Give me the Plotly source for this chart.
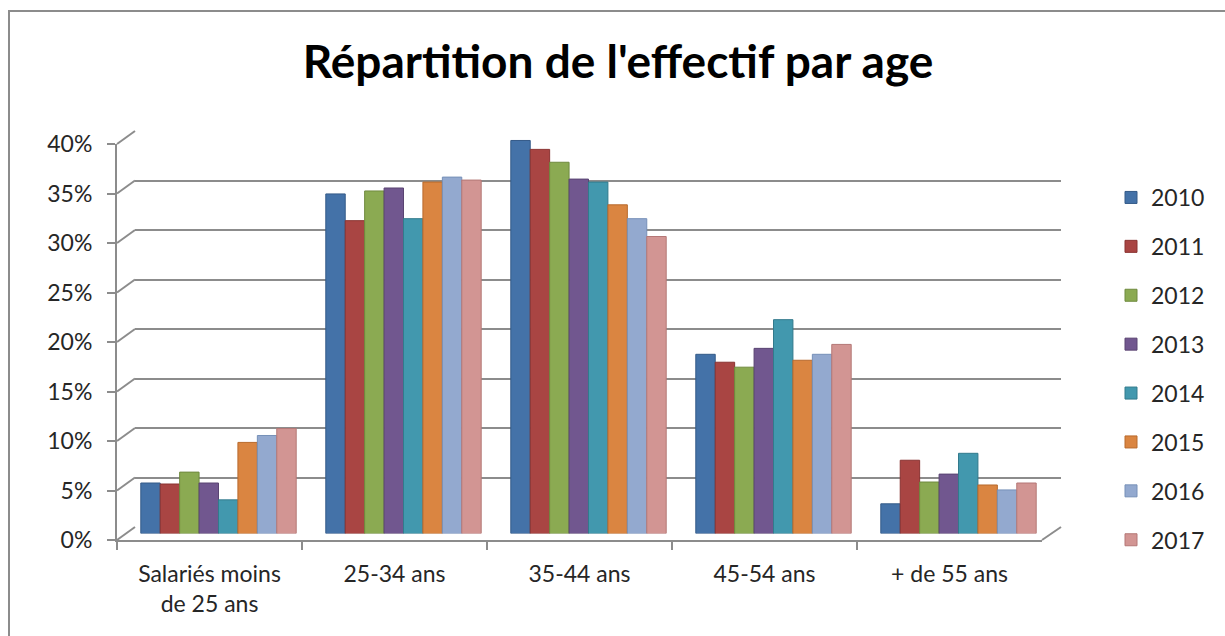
import plotly.graph_objects as go

# ---- data ----
categories = ["Salariés moins<br>de 25 ans", "25-34 ans", "35-44 ans", "45-54 ans", "+ de 55 ans"]
years = ["2010", "2011", "2012", "2013", "2014", "2015", "2016", "2017"]
v2010 = [0.051, 0.343, 0.397, 0.181, 0.030]
v2011 = [0.050, 0.316, 0.388, 0.173, 0.074]
v2012 = [0.062, 0.346, 0.375, 0.168, 0.052]
v2013 = [0.051, 0.349, 0.358, 0.187, 0.060]
v2014 = [0.034, 0.318, 0.355, 0.216, 0.081]
v2015 = [0.092, 0.355, 0.332, 0.175, 0.049]
v2016 = [0.099, 0.360, 0.318, 0.181, 0.044]
v2017 = [0.106, 0.357, 0.300, 0.191, 0.051]
series = [v2010, v2011, v2012, v2013, v2014, v2015, v2016, v2017]
colors = ["#4472A8", "#A94543", "#8BAA52", "#71578F", "#4298AE", "#DA8541", "#93A9CF", "#D29593"]
edge = ["#345A88", "#8A3331", "#6F8A3E", "#5A4472", "#327A8C", "#B86A2C", "#7690B8", "#B47776"]
ytick_vals = [0, 0.05, 0.10, 0.15, 0.20, 0.25, 0.30, 0.35, 0.40]

W, H = 1225, 636
FONT = "Lato"

def fx(px):
    return px / W

def fy(py):
    return 1 - py / H

# pixel geometry of the pseudo-3D box
front = dict(x0=117, x1=1042, y0=540, y40=144)
back = dict(x0=135, x1=1061, y0=527, y40=131)
mid = dict(x0=126, x1=1051, y0=533.5, y40=137.5)

fig = go.Figure()

# invisible trace so the back-wall subplot (gridlines) is drawn
fig.add_trace(go.Scatter(x=categories, y=v2010, mode="markers", marker=dict(opacity=0),
                         showlegend=False, hoverinfo="skip", xaxis="x", yaxis="y"))

for name, vals, c, e in zip(years, series, colors, edge):
    fig.add_trace(go.Bar(
        x=categories, y=vals, name=name, legendgroup=name,
        marker=dict(color=c, line=dict(color=e, width=1)),
        xaxis="x2", yaxis="y2",
    ))

# invisible trace to define categories on the front axis
fig.add_trace(go.Scatter(x=categories, y=v2010, mode="markers", marker=dict(opacity=0),
                         showlegend=False, hoverinfo="skip", xaxis="x3", yaxis="y3"))

axis_col = "#8C8C8C"
tickfont = dict(size=23, color="#262626", family=FONT)
fig.update_layout(
    template="none",
    width=W, height=H,
    margin=dict(l=0, r=0, t=0, b=0, autoexpand=False),
    paper_bgcolor="white", plot_bgcolor="rgba(0,0,0,0)",
    font=dict(family=FONT, color="#262626"),
    title=dict(text="<b>Répartition de l'effectif par age</b>", x=fx(618), xanchor="center",
               y=fy(62), yanchor="middle", font=dict(size=46, color="black", family=FONT)),
    barmode="group", bargap=0.16, bargroupgap=0,
    # back wall (gridlines)
    xaxis=dict(domain=[fx(back["x0"]), fx(back["x1"])], type="category", range=[-0.5, 4.5],
               showgrid=False, showticklabels=False, zeroline=False, showline=False,
               ticks="", automargin=False),
    yaxis=dict(domain=[fy(back["y0"]), fy(back["y40"])], range=[0, 0.4], tickvals=ytick_vals,
               showgrid=True, gridcolor=axis_col, gridwidth=2, showticklabels=False, ticks="",
               zeroline=False, showline=False, automargin=False),
    # bars (middle depth)
    xaxis2=dict(domain=[fx(mid["x0"]), fx(mid["x1"])], type="category", anchor="y2",
                range=[-0.5, 4.5], showgrid=False, showticklabels=False, showline=False,
                zeroline=False, ticks="", automargin=False),
    yaxis2=dict(domain=[fy(mid["y0"]), fy(mid["y40"])], range=[0, 0.4], anchor="x2",
                showgrid=False, showticklabels=False, showline=False, zeroline=False,
                ticks="", automargin=False),
    # front axes with labels
    xaxis3=dict(domain=[fx(front["x0"]), fx(front["x1"])], type="category", anchor="y3",
                range=[-0.5, 4.5], tickson="boundaries", ticks="outside", ticklen=8,
                tickcolor=axis_col, tickwidth=2, showline=True, linecolor=axis_col, linewidth=2,
                showgrid=False, zeroline=False, tickfont=tickfont, ticklabelstandoff=12,
                automargin=False),
    yaxis3=dict(domain=[fy(front["y0"]), fy(front["y40"])], range=[0, 0.4], anchor="x3",
                tickvals=ytick_vals, tickformat=".0%", ticks="outside", ticklen=8,
                tickcolor=axis_col, tickwidth=2, showline=True, linecolor=axis_col, linewidth=2,
                showgrid=False, zeroline=False, tickfont=tickfont, ticklabelstandoff=10,
                automargin=False),
    legend=dict(x=fx(1111), xanchor="left", y=fy(176), yanchor="top", tracegroupgap=16,
                font=dict(size=23, color="#262626", family=FONT), itemwidth=30,
                bgcolor="rgba(0,0,0,0)"),
    showlegend=True,
)

# decorative 3D connectors (tick diagonals + floor corner) and chart frame
shapes = []
for v in ytick_vals:
    yf = front["y0"] + (front["y40"] - front["y0"]) * v / 0.4
    yb = back["y0"] + (back["y40"] - back["y0"]) * v / 0.4
    shapes.append(dict(type="line", xref="paper", yref="paper", x0=fx(front["x0"]), y0=fy(yf),
                       x1=fx(back["x0"]), y1=fy(yb), line=dict(color=axis_col, width=2)))
shapes.append(dict(type="line", xref="paper", yref="paper", x0=fx(front["x1"]), y0=fy(front["y0"]),
                   x1=fx(back["x1"]), y1=fy(back["y0"]), line=dict(color=axis_col, width=2)))
shapes.append(dict(type="rect", xref="paper", yref="paper", x0=fx(9), y0=-0.05, x1=1.05, y1=fy(11),
                   line=dict(color="#8C8C8C", width=2), layer="below"))
fig.update_layout(shapes=shapes)

fig.write_html("out.html", config={"displayModeBar": False},
               post_script="document.body.style.margin='0';document.body.style.overflow='hidden';")
